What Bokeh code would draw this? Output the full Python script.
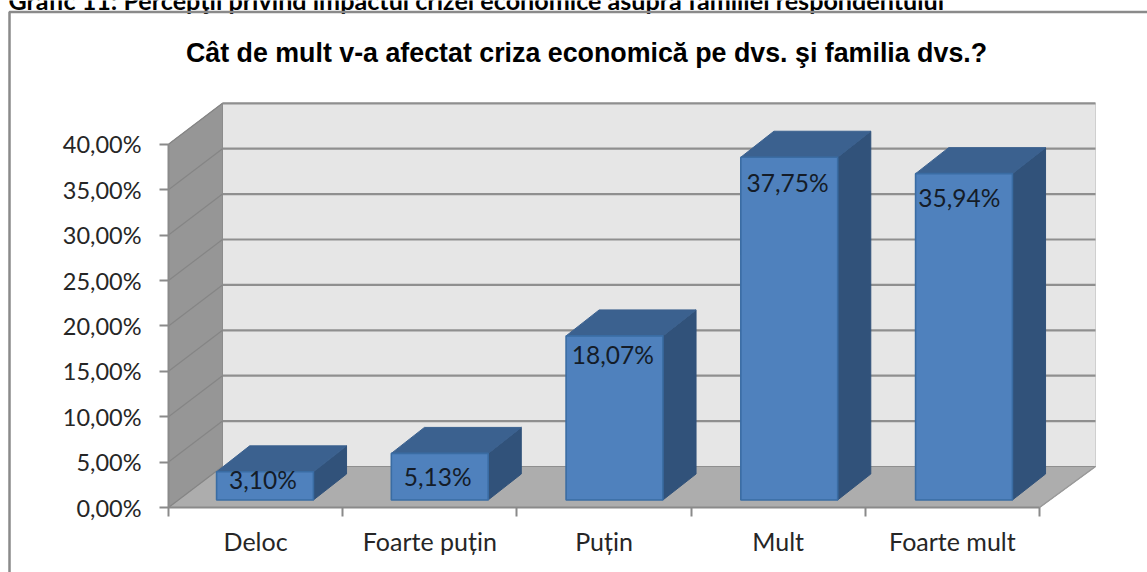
from bokeh.embed import file_html
from bokeh.resources import INLINE
from bokeh.plotting import figure
from bokeh.models import LinearAxis, FixedTicker, Range1d
from bokeh.core.properties import value

categories = ["Deloc", "Foarte puțin", "Puțin", "Mult", "Foarte mult"]
values = [3.10, 5.13, 18.07, 37.75, 35.94]
value_labels = ["3,10%", "5,13%", "18,07%", "37,75%", "35,94%"]
y_ticks = [0, 5, 10, 15, 20, 25, 30, 35, 40]
y_tick_labels = ["0,00%", "5,00%", "10,00%", "15,00%", "20,00%", "25,00%", "30,00%", "35,00%", "40,00%"]
chart_title = "Cât de mult v-a afectat criza economică pe dvs. şi familia dvs.?"
heading = "Grafic 11: Percepţii privind impactul crizei economice asupra familiei respondentului"

W, H = 1147, 572
X0, Y0 = 168, 507          # pixel position of the axes' origin
UX, UY = 174.2, 9.08       # pixels per category / per percent
def sx(px): return (px - X0) / UX
def sy(py): return (Y0 - py) / UY

DX, DY = sx(222), sy(466)   # depth of the walls
RIGHT = 5
BACK_RIGHT = sx(1095)
BX, BY = 0.19, 2.86         # depth of a bar
B0X, B0Y = 0.276, 0.83      # bar offset from the front plane
BW = 0.556
BAR_STEP = 1.00316
LABEL_DX = [-0.012, -0.012, -0.01, -0.01, -0.027]
LABEL_DY = [-0.85, -2.5, -2.1, -2.8, -2.65]

p = figure(width=W, height=H, output_backend="svg", toolbar_location=None,
           x_range=Range1d(sx(0), sx(W)), y_range=Range1d(sy(H), sy(0)),
           min_border=0, min_border_left=0, min_border_right=0, min_border_top=0, min_border_bottom=0,
           x_axis_type=None, y_axis_type=None, outline_line_color=None,
           margin=(0, 0, 0, 0))
p.xgrid.visible = False
p.ygrid.visible = False
p.background_fill_color = "white"
p.border_fill_color = "white"

# walls and floor
p.patch([DX, BACK_RIGHT, BACK_RIGHT, DX], [DY, DY, 40 + DY, 40 + DY],
        fill_color="#e6e6e6", line_color="#cfcfcf", line_width=1)
p.patch([0, DX, DX, 0], [0, DY, 40 + DY, 40], fill_color="#969696", line_color="#8c8c8c", line_width=1)
p.patch([0, RIGHT, BACK_RIGHT, DX], [0, 0, DY, DY], fill_color="#adadad", line_color="#9a9a9a", line_width=1)

for t in y_ticks:
    p.line([DX, BACK_RIGHT], [t + DY, t + DY], line_color="#8f8f8f", line_width=2.2 if t else 1)
    p.line([0, DX], [t, t + DY], line_color="#858585", line_width=1.2)
p.line([RIGHT, BACK_RIGHT], [0, DY], line_color="#9a9a9a", line_width=1.5)

# bars
for i, v in enumerate(values):
    l, r = i * BAR_STEP + B0X, i * BAR_STEP + B0X + BW
    b, t = B0Y, B0Y + v
    p.patch([r, r + BX, r + BX, r], [b, b + BY, t + BY, t], fill_color="#31527a", line_color="#31527a", line_width=1)
    p.patch([l, r, r + BX, l + BX], [t, t, t + BY, t + BY], fill_color="#3b618f", line_color="#3b618f", line_width=1)
    p.quad(left=l, right=r, bottom=b, top=t, fill_color="#4f81bd", line_color="#3a6ca3", line_width=1.6)
    p.text([l + BW / 2 + LABEL_DX[i]], [t + LABEL_DY[i]], text=[value_labels[i]],
           text_font=value("Lato"), text_font_size="24.5px", text_color="#141c28",
           text_align="center", text_baseline="middle")

# axes
y_axis = LinearAxis(fixed_location=0, ticker=FixedTicker(ticks=y_ticks), bounds=(0, 40),
                    major_label_overrides={t: s for t, s in zip(y_ticks, y_tick_labels)},
                    minor_tick_line_color=None, major_tick_in=0, major_tick_out=9,
                    major_tick_line_color="#8a8a8a", major_tick_line_width=2,
                    axis_line_color="#8a8a8a", axis_line_width=2,
                    major_label_standoff=18, major_label_text_font="Lato",
                    major_label_text_font_size="23.5px", major_label_text_color="#262626")
p.add_layout(y_axis, "left")

centers = [i + 0.5 for i in range(len(categories))]
x_axis = LinearAxis(fixed_location=0,
                    ticker=FixedTicker(ticks=centers, minor_ticks=list(range(len(categories) + 1))),
                    bounds=(0, 5),
                    major_label_overrides={c: s for c, s in zip(centers, categories)},
                    major_tick_in=0, major_tick_out=0, minor_tick_in=0, minor_tick_out=9,
                    minor_tick_line_color="#8a8a8a", minor_tick_line_width=2,
                    axis_line_color="#8a8a8a", axis_line_width=2,
                    major_label_standoff=9, major_label_text_font="Lato",
                    major_label_text_font_size="25px", major_label_text_color="#262626")
p.add_layout(x_axis, "below")

# titles
p.text([sx(586)], [sy(52)], text=[chart_title], text_font=value("Liberation Sans"), text_font_style="bold",
       text_font_size="26.8px", text_color="#000000", text_align="center", text_baseline="middle")
p.text([sx(8)], [sy(-1)], text=[heading], text_font=value("Lato"), text_font_style="bold",
       text_font_size="25.15px", text_color="#000000", text_align="left", text_baseline="alphabetic")

# outer chart frame
p.line([sx(9), sx(9), sx(W)], [sy(H), sy(11.5), sy(11.5)], line_color="#8a8a8a", line_width=2.5)

open("out.html", "w").write(file_html(p, INLINE))
